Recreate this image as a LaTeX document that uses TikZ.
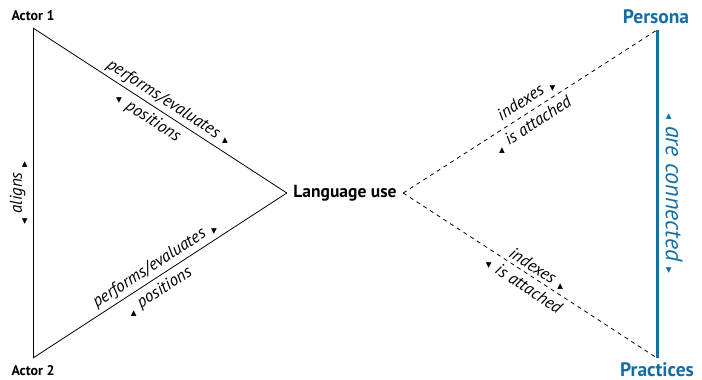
\documentclass[tikz,border=0pt]{standalone}
\usepackage{fontspec}
\setmainfont{PT Sans}
\newfontfamily\symf{DejaVu Sans}
\usepackage{graphicx}
\definecolor{pblue}{RGB}{20,110,165}
\newcommand\tri[2]{\rotatebox{#2}{\symf\fontsize{7.5}{7.5}\selectfont #1}}
\begin{document}
\begin{tikzpicture}[x=1pt,y=-1pt,
  lbl/.style={font=\itshape\fontsize{17}{20}\selectfont, inner sep=1pt, sloped},
  actor/.style={font=\bfseries\fontsize{14}{16}\selectfont, inner sep=0pt},
  bluebig/.style={font=\bfseries\fontsize{19.5}{22}\selectfont, text=pblue, inner sep=0pt},
  solidline/.style={draw=black, line width=0.8pt},
  dashline/.style={draw=black, line width=0.8pt, dash pattern=on 4pt off 4pt},
  blueline/.style={draw=pblue, line width=3pt}]
\useasboundingbox (0,0) rectangle (702,380);
\coordinate (a1) at (33,28);
\coordinate (a2) at (33,358);
\coordinate (p1) at (657,30);
\coordinate (p2) at (657,358);
\node[actor] (t1) at (33,16) {Actor 1};
\node[actor] (t2) at (33,371) {Actor 2};
\node[bluebig] (per) at (656,17) {Persona};
\node[bluebig] (pra) at (657,369.5) {Practices};
\node[font=\bfseries\fontsize{17.5}{20}\selectfont, inner sep=0pt, minimum width=116pt] (lu) at (345,193) {Language use};
% left triangle
\draw[solidline] (a1) -- node[lbl, above=2pt, pos=0.51] {performs/evaluates \tri{▲}{33}}
                           node[lbl, below=4pt, pos=0.48] {\tri{▼}{33} positions} (lu.west);
\draw[solidline] (a2) -- node[lbl, above=2pt, pos=0.505] {performs/evaluates \tri{▼}{-33}}
                           node[lbl, below=4pt, pos=0.47] {\tri{▲}{-33} positions} (lu.west);
\draw[solidline] (a2) -- node[lbl, above=4pt, pos=0.5] {\tri{▼}{-90} aligns \tri{▲}{-90}} (a1);
% right side
\draw[dashline] (lu.east) -- node[lbl, above=2pt, pos=0.51] {indexes \tri{▼}{-33}}
                             node[lbl, below=4pt, pos=0.485] {\tri{▲}{-33} is attached} (p1);
\draw[dashline] (lu.east) -- node[lbl, above=2pt, pos=0.51] {indexes \tri{▲}{33}}
                             node[lbl, below=4pt, pos=0.5] {\tri{▼}{33} is attached} (p2);
\draw[blueline] (p1) -- node[lbl, above=6pt, pos=0.5, text=pblue, font=\itshape\fontsize{24}{28}\selectfont] {\tri{▲}{90} are connected \tri{▼}{90}} (p2);
\end{tikzpicture}
\end{document}
